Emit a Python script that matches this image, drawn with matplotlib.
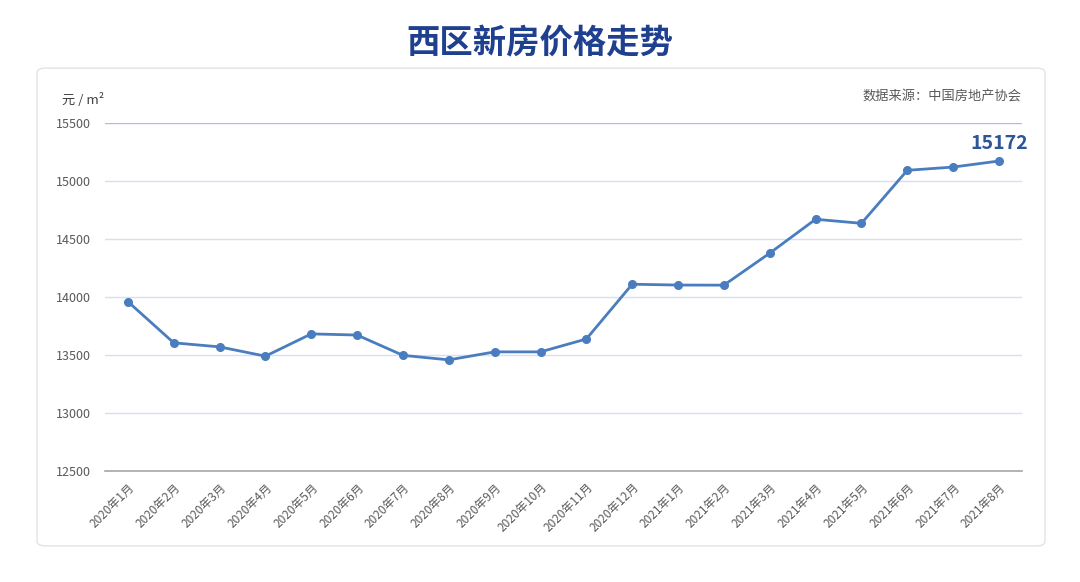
import matplotlib
matplotlib.use("Agg")
import matplotlib.pyplot as plt
from matplotlib.patches import FancyBboxPatch

plt.rcParams['font.family'] = ['Noto Sans CJK SC', 'DejaVu Sans']

# data
months = ['2020年1月', '2020年2月', '2020年3月', '2020年4月', '2020年5月',
          '2020年6月', '2020年7月', '2020年8月', '2020年9月', '2020年10月',
          '2020年11月', '2020年12月', '2021年1月', '2021年2月', '2021年3月',
          '2021年4月', '2021年5月', '2021年6月', '2021年7月', '2021年8月']
prices = [13960, 13605, 13570, 13490, 13682, 13672, 13497, 13458, 13527, 13527,
          13638, 14110, 14103, 14102, 14378, 14670, 14635, 15092, 15120, 15172]
yticks = [12500, 13000, 13500, 14000, 14500, 15000, 15500]

line_color = '#4a7dbf'
grid_color = '#d6e0f0'
text_gray = '#595959'

fig = plt.figure(figsize=(10.8, 5.82), dpi=100)

# rounded card behind the chart
card = FancyBboxPatch((0.0343, 0.062), 0.9333, 0.821,
                      boxstyle="round,pad=0,rounding_size=0.008",
                      transform=fig.transFigure, facecolor='white',
                      edgecolor='#e3e3e3', linewidth=1.0, zorder=-5)
fig.patches.append(card)

fig.text(0.5, 0.925, '西区新房价格走势', ha='center', va='center',
         fontsize=24, fontweight='bold', color='#1f3f8f')

ax = fig.add_axes([0.0972, 0.1907, 0.849, 0.598])
ax.set_facecolor('none')
x = list(range(len(months)))
ax.plot(x, prices, color=line_color, linewidth=2.0, marker='o',
        markersize=5.5, zorder=3)

ax.set_xlim(-0.5, len(months) - 0.5)
ax.set_ylim(yticks[0], yticks[-1])
ax.set_yticks(yticks)
ax.set_yticklabels([str(v) for v in yticks], fontsize=9, color=text_gray)
ax.set_xticks(x)
ax.set_xticklabels(months, rotation=45, ha='right', rotation_mode='anchor',
                   fontsize=8.5, color=text_gray)
ax.tick_params(axis='both', length=0, pad=10)
ax.tick_params(axis='x', pad=7)

for v in yticks[1:]:
    ax.axhline(v, color='#a9bde6' if v == yticks[-1] else grid_color,
               linewidth=1.0, zorder=1)
for s in ['top', 'right', 'left']:
    ax.spines[s].set_visible(False)
ax.spines['bottom'].set_color('#a6a6a6')
ax.spines['bottom'].set_linewidth(1.2)

ax.annotate(str(prices[-1]), (x[-1], prices[-1]), xytext=(0, 6),
            textcoords='offset points', ha='center', va='bottom',
            fontsize=14, fontweight='semibold', color='#2e5597')

fig.text(0.057, 0.828, '元 / m²', ha='left', va='center', fontsize=9.5,
         color='#404040')
fig.text(0.946, 0.834, '数据来源：中国房地产协会', ha='right', va='center',
         fontsize=9.5, color=text_gray)

fig.savefig('out.png', dpi=100)
